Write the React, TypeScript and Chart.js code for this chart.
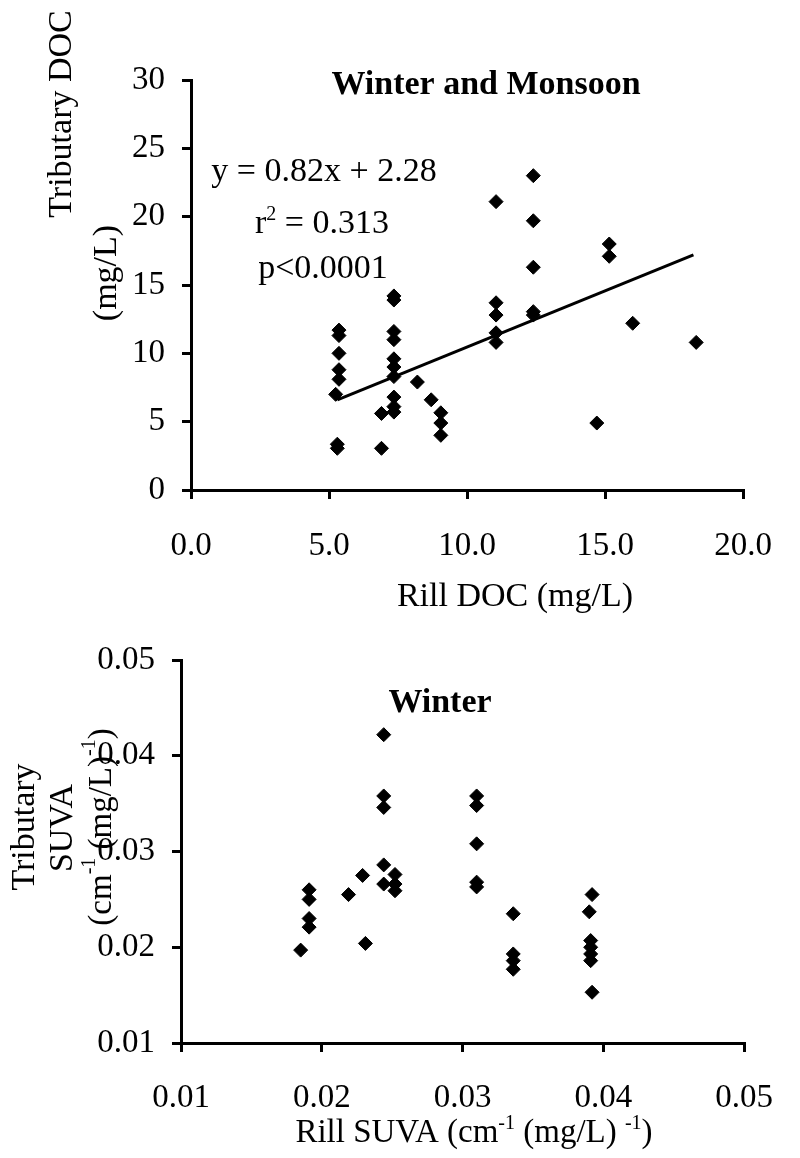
import React, { useEffect, useRef } from "react";
import { Chart, registerables } from "chart.js";

Chart.register(...registerables);

const FONT = "'Liberation Serif', 'Times New Roman', serif";

// ---------- Top chart: Winter and Monsoon (DOC) ----------
const rillDoc = [
  5.36, 5.36, 5.36, 5.36, 5.36, 5.24, 5.3, 5.3,
  6.9, 6.9,
  7.35, 7.35, 7.35, 7.35, 7.35, 7.35, 7.35, 7.35, 7.35, 7.35,
  8.2, 8.7, 9.05, 9.05, 9.05,
  11.05, 11.05, 11.05, 11.05, 11.05,
  12.4, 12.4, 12.4, 12.4, 12.4,
  14.7, 15.15, 15.15, 16.0, 18.3,
];
const tribDoc = [
  11.7, 11.3, 10.0, 8.8, 8.1, 7.0, 3.35, 3.05,
  5.6, 3.05,
  14.2, 13.9, 11.6, 11.0, 9.6, 9.0, 8.3, 6.8, 6.1, 5.7,
  7.9, 6.6, 5.65, 4.9, 4.0,
  21.1, 13.7, 12.8, 11.5, 10.8,
  23.0, 19.7, 16.3, 13.05, 12.8,
  4.9, 18.0, 17.1, 12.2, 10.8,
];
const docTrendX = [5.3, 18.2];
const docTrendY = [6.6, 17.2];
const docXTickLabels = ["0.0", "5.0", "10.0", "15.0", "20.0"];
const docYTickLabels = ["0", "5", "10", "15", "20", "25", "30"];

// ---------- Bottom chart: Winter (SUVA) ----------
const rillSuva = [
  0.0185,
  0.0191, 0.0191, 0.0191, 0.0191,
  0.0219, 0.0229, 0.0231,
  0.0244, 0.0244, 0.0244, 0.0244, 0.0244,
  0.0252, 0.0252, 0.0252,
  0.031, 0.031, 0.031, 0.031, 0.031,
  0.0336, 0.0336, 0.0336, 0.0336,
  0.0392, 0.039, 0.0391, 0.0391, 0.0391, 0.0391, 0.0392,
];
const tribSuva = [
  0.0197,
  0.026, 0.025, 0.023, 0.0221,
  0.0255, 0.0275, 0.0204,
  0.0422, 0.0358, 0.0346, 0.0286, 0.0266,
  0.0276, 0.0266, 0.0259,
  0.0358, 0.0348, 0.0308, 0.0268, 0.0263,
  0.0235, 0.0193, 0.0186, 0.0177,
  0.0255, 0.0237, 0.0207, 0.02, 0.0193, 0.0186, 0.0153,
];
const suvaTickLabels = ["0.01", "0.02", "0.03", "0.04", "0.05"];

type Seg = { t: string; sup?: boolean };
type TextItem = {
  segs: Seg[];
  x: number;
  y: number;
  size: number;
  bold?: boolean;
  rot?: number;
  baseline?: CanvasTextBaseline;
};

function drawRich(ctx: CanvasRenderingContext2D, it: TextItem) {
  ctx.save();
  ctx.translate(it.x, it.y);
  if (it.rot) ctx.rotate(it.rot);
  const b = it.bold ? "bold " : "";
  const fMain = `${b}${it.size}px ${FONT}`;
  const fSup = `${b}${Math.round(it.size * 0.6)}px ${FONT}`;
  let total = 0;
  const widths = it.segs.map((s) => {
    ctx.font = s.sup ? fSup : fMain;
    const w = ctx.measureText(s.t).width;
    total += w;
    return w;
  });
  let cx = -total / 2;
  ctx.fillStyle = "#000";
  ctx.textAlign = "left";
  ctx.textBaseline = it.baseline || "alphabetic";
  it.segs.forEach((s, i) => {
    ctx.font = s.sup ? fSup : fMain;
    ctx.fillText(s.t, cx, s.sup ? -it.size * 0.38 : 0);
    cx += widths[i];
  });
  ctx.restore();
}

function textPlugin(items: TextItem[]) {
  return {
    id: "richText",
    afterDraw(chart: any) {
      const ctx = chart.ctx as CanvasRenderingContext2D;
      items.forEach((it) => drawRich(ctx, it));
    },
  };
}

const TICK_FONT = { family: FONT, size: 33 };

function axisCommon(extra: any) {
  return {
    type: "linear",
    border: { display: true, color: "#000", width: 3 },
    grid: {
      display: true,
      drawOnChartArea: false,
      drawTicks: true,
      tickLength: 9,
      color: "#000",
      lineWidth: 3,
    },
    ...extra,
  };
}

function pts(xs: number[], ys: number[]) {
  return xs.map((x, i) => ({ x, y: ys[i] }));
}

const markerStyle = {
  pointStyle: "rectRot",
  pointRadius: 7,
  pointHoverRadius: 7,
  backgroundColor: "#000",
  borderColor: "#000",
  borderWidth: 1,
  showLine: false,
};

// top canvas covers page y 0..620, bottom canvas page y 620..1158
const TOP_H = 620;
const BOT_H = 1158 - TOP_H;

function TopChart() {
  const ref = useRef<HTMLCanvasElement>(null);
  useEffect(() => {
    if (!ref.current) return;
    const items: TextItem[] = [
      { segs: [{ t: "Winter and Monsoon" }], x: 486, y: 94, size: 34, bold: true },
      { segs: [{ t: "y = 0.82x + 2.28" }], x: 324, y: 181, size: 34 },
      { segs: [{ t: "r" }, { t: "2", sup: true }, { t: " = 0.313" }], x: 322, y: 233, size: 34 },
      { segs: [{ t: "p<0.0001" }], x: 323, y: 278, size: 34 },
      { segs: [{ t: "Tributary DOC" }], x: 62, y: 114, size: 34, rot: -Math.PI / 2, baseline: "middle" },
      { segs: [{ t: "(mg/L)" }], x: 107, y: 273, size: 34, rot: -Math.PI / 2, baseline: "middle" },
      { segs: [{ t: "Rill DOC (mg/L)" }], x: 515, y: 606, size: 34 },
    ];
    const chart = new Chart(ref.current, {
      type: "scatter",
      data: {
        datasets: [
          { label: "DOC", data: pts(rillDoc, tribDoc), ...markerStyle } as any,
          {
            label: "Trend",
            data: pts(docTrendX, docTrendY),
            showLine: true,
            borderColor: "#000",
            borderWidth: 3,
            pointRadius: 0,
            fill: false,
          } as any,
        ],
      },
      options: {
        responsive: false,
        animation: false,
        events: [],
        layout: { autoPadding: false, padding: { left: 0, top: 80, right: 55, bottom: 0 } },
        plugins: { legend: { display: false }, tooltip: { enabled: false }, title: { display: false } },
        scales: {
          x: axisCommon({
            position: "bottom",
            min: 0,
            max: 20,
            afterFit: (s: any) => { s.height = TOP_H - 490; },
            ticks: {
              stepSize: 5,
              color: "#000",
              font: TICK_FONT,
              padding: 28,
              maxRotation: 0,
              callback: (_v: any, i: number) => docXTickLabels[i],
            },
          }),
          y: axisCommon({
            position: "left",
            min: 0,
            max: 30,
            afterFit: (s: any) => { s.width = 191; },
            ticks: {
              stepSize: 5,
              color: "#000",
              font: TICK_FONT,
              padding: 17,
              callback: (_v: any, i: number) => docYTickLabels[i],
            },
          }),
        },
      } as any,
      plugins: [textPlugin(items)],
    });
    return () => chart.destroy();
  }, []);
  return <canvas ref={ref} width={800} height={TOP_H} style={{ display: "block" }} />;
}

function BottomChart() {
  const ref = useRef<HTMLCanvasElement>(null);
  useEffect(() => {
    if (!ref.current) return;
    const o = TOP_H; // page offset of this canvas
    const items: TextItem[] = [
      { segs: [{ t: "Winter" }], x: 440, y: 712 - o, size: 34, bold: true },
      { segs: [{ t: "Tributary" }], x: 25, y: 827 - o, size: 34, rot: -Math.PI / 2, baseline: "middle" },
      { segs: [{ t: "SUVA" }], x: 63, y: 828 - o, size: 34, rot: -Math.PI / 2, baseline: "middle" },
      {
        segs: [{ t: "(cm" }, { t: "-1", sup: true }, { t: " (mg/L)" }, { t: "-1", sup: true }, { t: ")" }],
        x: 102, y: 827 - o, size: 33, rot: -Math.PI / 2, baseline: "middle",
      },
      {
        segs: [{ t: "Rill SUVA (cm" }, { t: "-1", sup: true }, { t: " (mg/L) " }, { t: "-1", sup: true }, { t: ")" }],
        x: 474, y: 1142 - o, size: 33,
      },
    ];
    const chart = new Chart(ref.current, {
      type: "scatter",
      data: {
        datasets: [{ label: "SUVA", data: pts(rillSuva, tribSuva), ...markerStyle } as any],
      },
      options: {
        responsive: false,
        animation: false,
        events: [],
        layout: { autoPadding: false, padding: { left: 0, top: 660 - o, right: 33, bottom: 0 } },
        plugins: { legend: { display: false }, tooltip: { enabled: false }, title: { display: false } },
        scales: {
          x: axisCommon({
            position: "bottom",
            min: 0.01,
            max: 0.05,
            afterFit: (s: any) => { s.height = 1158 - 1043; },
            ticks: {
              stepSize: 0.01,
              color: "#000",
              font: TICK_FONT,
              padding: 27,
              maxRotation: 0,
              callback: (_v: any, i: number) => suvaTickLabels[i],
            },
          }),
          y: axisCommon({
            position: "left",
            min: 0.01,
            max: 0.05,
            afterFit: (s: any) => { s.width = 181; },
            ticks: {
              stepSize: 0.01,
              color: "#000",
              font: TICK_FONT,
              padding: 17,
              callback: (_v: any, i: number) => suvaTickLabels[i],
            },
          }),
        },
      } as any,
      plugins: [textPlugin(items)],
    });
    return () => chart.destroy();
  }, []);
  return <canvas ref={ref} width={800} height={BOT_H} style={{ display: "block" }} />;
}

export default function App() {
  return (
    <div style={{ position: "absolute", left: 0, top: 0, width: 800, height: 1158, background: "#fff" }}>
      <TopChart />
      <BottomChart />
    </div>
  );
}
